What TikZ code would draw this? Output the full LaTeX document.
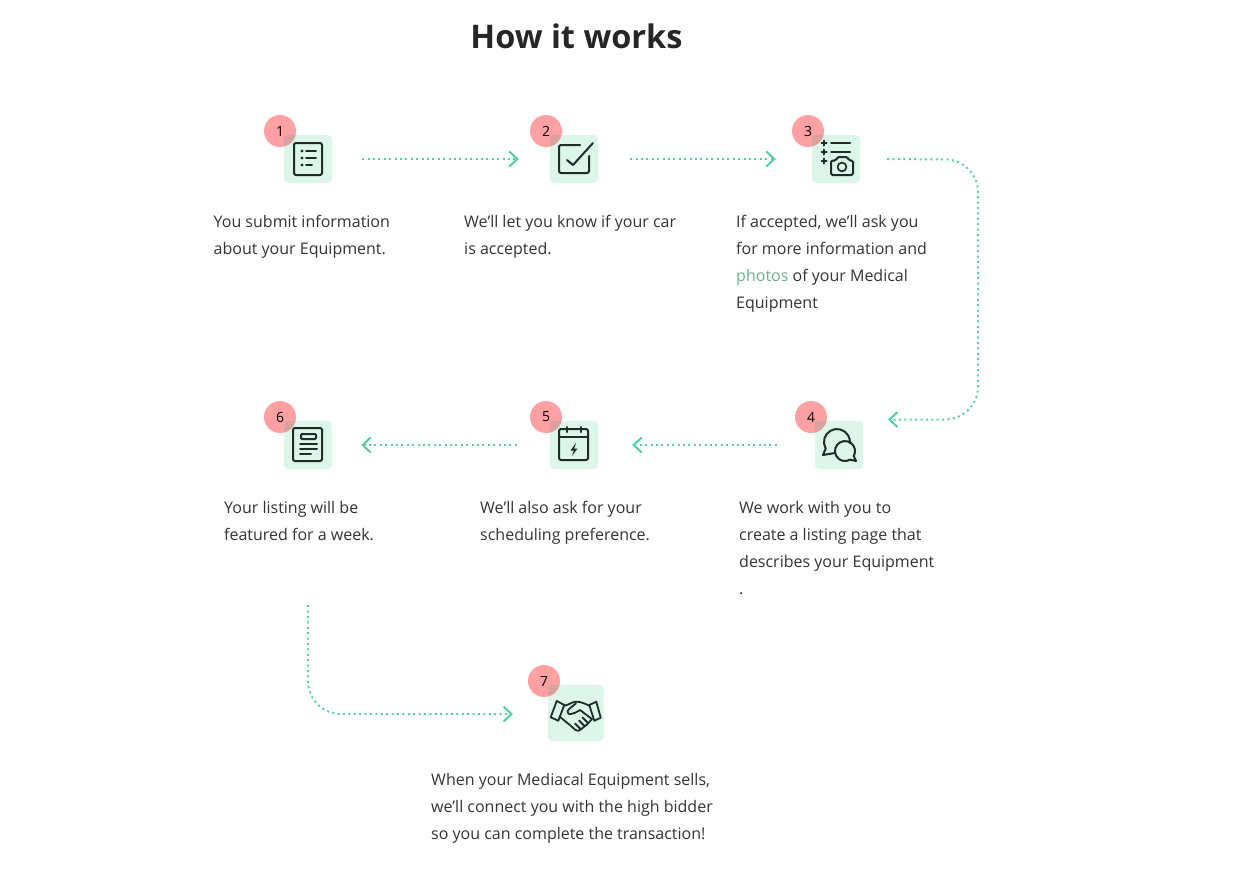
\documentclass[tikz,border=0pt]{standalone}
\usepackage{fontspec}
\setmainfont{Open Sans}
\usetikzlibrary{arrows.meta,calc}
\definecolor{ink}{HTML}{1F2D2A}
\definecolor{txt}{HTML}{333333}
\definecolor{flowc}{HTML}{52D19F}
\definecolor{tile}{HTML}{DCF6EA}
\definecolor{badge}{HTML}{FFA0A2}
\definecolor{overlapc}{HTML}{D8A29E}
\definecolor{linkc}{HTML}{6FAE85}
\newcommand{\cornerlap}[2]{\begin{scope}\clip (#1.center) circle (16);\fill[overlapc,rounded corners=4pt] (#2.north west) rectangle (#2.south east);\end{scope}}
\tikzset{
  x=1pt,y=-1pt,
  tile/.style={fill=tile,rounded corners=4pt,inner sep=0,minimum size=48pt},
  badge/.style={circle,fill=badge,inner sep=0,minimum size=32pt,font=\fontsize{14}{14}\selectfont,text=black},
  body/.style={anchor=north west,align=left,inner sep=0,text=txt,font=\fontsize{16}{27}\selectfont},
  flow/.style={draw=flowc,line width=2pt,dash pattern=on 2pt off 3.4pt,-{Straight Barb[length=8pt,width=15pt,line width=2pt]}},
  glyph/.style={draw=ink,line width=2pt,line cap=round,line join=round},
}
\begin{document}
\begin{tikzpicture}
\useasboundingbox (0,0) rectangle (1256,879);
\node[font=\bfseries\fontsize{32.5}{38}\selectfont,text=black!85] (title) at (576.5,36) {How it works};
% tiles
\node[tile] (i1) at (308,159) {};
\node[tile] (i2) at (574,159) {};
\node[tile] (i3) at (836,159) {};
\node[tile] (i4) at (839,445) {};
\node[tile] (i5) at (574,445) {};
\node[tile] (i6) at (308,445) {};
\node[tile,minimum size=56pt] (i7) at (576,713) {};
% badges
\node[badge] (n1) at (280,131) {1};
\node[badge] (n2) at (546,131) {2};
\node[badge] (n3) at (808,131) {3};
\node[badge] (n4) at (811,417) {4};
\node[badge] (n5) at (546,417) {5};
\node[badge] (n6) at (280,417) {6};
\node[badge] (n7) at (544,681) {7};
\cornerlap{n1}{i1}\cornerlap{n2}{i2}\cornerlap{n3}{i3}\cornerlap{n4}{i4}\cornerlap{n5}{i5}\cornerlap{n6}{i6}\cornerlap{n7}{i7}
% icon 1
\draw[glyph] (294,143) [rounded corners=2pt] rectangle (322,175);
\fill[ink] (302,151) circle (1.6) (302,158) circle (1.6) (302,165) circle (1.6);
\draw[glyph] (306,151) -- (316,151) (306,158) -- (316,158) (306,165) -- (312,165);
% icon 2
\draw[glyph,rounded corners=2pt] (580,145) -- (559,145) -- (559,173) -- (589,173) -- (589,156);
\draw[glyph] (567,160) -- (573,165) -- (593,143);
% icon 3
\draw[glyph] (821.5,143) -- (826.5,143) (824,140.5) -- (824,145.5)
             (821.5,152) -- (826.5,152) (824,149.5) -- (824,154.5)
             (821.5,161) -- (826.5,161) (824,158.5) -- (824,163.5);
\draw[glyph] (831,143) -- (850,143) (831,152) -- (850,152);
\draw[glyph,rounded corners=1.5pt] (831,160.5) -- (836,160.5) -- (837.5,157) -- (847.5,157) -- (849,160.5) -- (853,160.5) -- (853,175) -- (831,175) -- cycle;
\draw[glyph,line width=1.7pt] (842,167) circle (4.4);
% icon 4
\draw[glyph] (835,453) -- (823,455) -- (825.7,448.5) arc (150:365:13);
\draw[glyph] (853.7,456) -- (856,461) -- (850,459.7) arc (60:390:10);
% icon 5
\draw[glyph,rounded corners=2pt] (559,429) rectangle (588,460);
\draw[glyph] (559,437) -- (588,437) (567,427) -- (567,432) (581,427) -- (581,432);
\fill[ink] (576,443) -- (570.5,450.5) -- (573.8,450.5) -- (572,456) -- (577.5,448.5) -- (574.2,448.5) -- cycle;
% icon 6
\draw[glyph,rounded corners=2pt] (293,428) rectangle (322,461);
\draw[glyph,rounded corners=1pt] (301,434) rectangle (316,439);
\draw[glyph] (300,444) -- (317,444) (300,449) -- (317,449) (300,454) -- (311,454);
% icon 7
\begin{scope}[glyph,line width=1.8pt]
\draw (550.7,717.3) -- (556.7,701) -- (564.3,705) -- (558.3,720.7) -- cycle;
\draw (589.3,705) -- (596.3,701.7) -- (600.7,717.7) -- (594.3,720.7) -- cycle;
\draw (564.3,705.7) .. controls (569,705) and (572,701.7) .. (576,701.7) .. controls (580,701.5) and (585,703.5) .. (589.3,705.7);
\draw (576,703.3) -- (568.5,709.5) .. controls (566.5,712) and (568,714.5) .. (571,714) .. controls (574,713.5) and (577,712) .. (580,710) -- (592,719);
\draw (559.5,716.5) -- (571,726) -- (575.5,730) .. controls (577,731) and (579,731) .. (580,730) -- (587,724.5) -- (592,719);
\draw (580.5,729) -- (575,723.5) (584.5,726) -- (579,720.5) (588,723) -- (582.5,717.5);
\end{scope}
% connectors
\coordinate (c3a) at (978,159.5);
\coordinate (c3b) at (978,419.5);
\coordinate (c3e) at (888,419.5);
\coordinate (c6) at (308,714);
\coordinate (c7) at (513,714);
\draw[flow,shorten <=30pt,shorten >=31pt] (i1.east) -- (i2.west);
\draw[flow,shorten <=32pt,shorten >=36pt] (i2.east) -- (i3.west);
\draw[flow,shorten <=27pt,rounded corners=33pt] (i3.east) -- (c3a) -- (c3b) -- (c3e);
\draw[flow,shorten <=38pt,shorten >=34pt] (i4.west) -- (i5.east);
\draw[flow,shorten <=33pt,shorten >=29pt] (i5.west) -- (i6.east);
\draw[flow,shorten <=136pt,rounded corners=33pt] (i6.south) -- (c6) -- (c7);
% texts
\node[body] (t1) at (213.5,215) {You submit information\\about your Equipment.};
\node[body] (t2) at (464,215) {We’ll let you know if your car\\is accepted.};
\node[body] (t3) at (736,215) {If accepted, we’ll ask you\\for more information and\\\textcolor{linkc}{photos} of your Medical\\Equipment};
\node[body] (t4) at (739,501) {We work with you to\\create a listing page that\\describes your Equipment\\.};
\node[body] (t5) at (480,501) {We’ll also ask for your\\scheduling preference.};
\node[body] (t6) at (224,501) {Your listing will be\\featured for a week.};
\node[body] (t7) at (431,773) {When your Mediacal Equipment sells,\\we’ll connect you with the high bidder\\so you can complete the transaction!};
\end{tikzpicture}
\end{document}
